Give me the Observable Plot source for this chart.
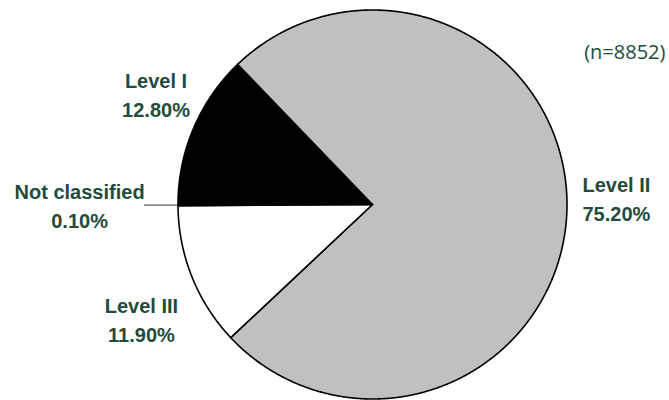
<!DOCTYPE html>
<html><head><meta charset="utf-8">
<script src="https://cdn.jsdelivr.net/npm/d3@7"></script>
<script src="https://cdn.jsdelivr.net/npm/@observablehq/plot@0.6"></script>
<style>body{margin:0;background:#fff} svg{display:block}</style>
</head><body><div id="chart"></div>
<script>
const categories = ["Level I", "Level II", "Level III", "Not classified"];
const shares = [12.8, 75.2, 11.9, 0.1];
const shareLabels = ["12.80%", "75.20%", "11.90%", "0.10%"];
const sampleSize = "(n=8852)";

// styling / layout (kept apart from data)
const sliceFills = ["#000000", "#c0c0c0", "#ffffff", "#ffffff"];
const labelAnchors = [[-1.113, 0.571], [1.254, 0.039], [-1.188, -0.584], [-1.506, 0]];
const textColor = "#234b3c";

const arcs = d3.pie().sort(null).startAngle(-Math.PI / 2).endAngle(1.5 * Math.PI)(shares);
const slices = arcs.map((a, i) => {
  const pts = [{x: 0, y: 0}];
  const n = Math.max(2, Math.ceil((a.endAngle - a.startAngle) / (Math.PI / 720)));
  for (let k = 0; k <= n; k++) {
    const t = a.startAngle + (a.endAngle - a.startAngle) * k / n;
    pts.push({x: Math.sin(t), y: Math.cos(t)});
  }
  pts.push({x: 0, y: 0});
  return {cat: categories[i], pts, mid: (a.startAngle + a.endAngle) / 2};
});

const nc = slices[3];
const leader = [{x1: Math.sin(nc.mid), y1: Math.cos(nc.mid), x2: -1.175, y2: Math.cos(nc.mid)}];

const labels = categories.map((c, i) => ({text: c + "\n" + shareLabels[i], x: labelAnchors[i][0], y: labelAnchors[i][1]}));

const chart = Plot.plot({
  width: 669,
  height: 400,
  margin: 0,
  x: {axis: null, domain: [-1, 1], range: [177.5, 566.5]},
  y: {axis: null, domain: [-1, 1], range: [398.5, 9.5]},
  style: {background: "#fff"},
  marks: [
    ...slices.map((s, i) => Plot.line(s.pts, {x: "x", y: "y", fill: sliceFills[i], stroke: "#000", strokeWidth: 1.6, strokeLinejoin: "round"})),
    Plot.link(leader, {x1: "x1", y1: "y1", x2: "x2", y2: "y2", stroke: "#333", strokeWidth: 1}),
    Plot.text(labels, {x: "x", y: "y", text: "text", fontSize: 20, fontWeight: "bold", fill: textColor, lineHeight: 1.45, fontFamily: "Liberation Sans"}),
    Plot.text([sampleSize], {x: 1.506, y: 0.782, text: d => d, textAnchor: "end", fontSize: 20, fill: textColor, fontFamily: "Open Sans"})
  ]
});
document.getElementById("chart").appendChild(chart);
</script>
</body></html>
